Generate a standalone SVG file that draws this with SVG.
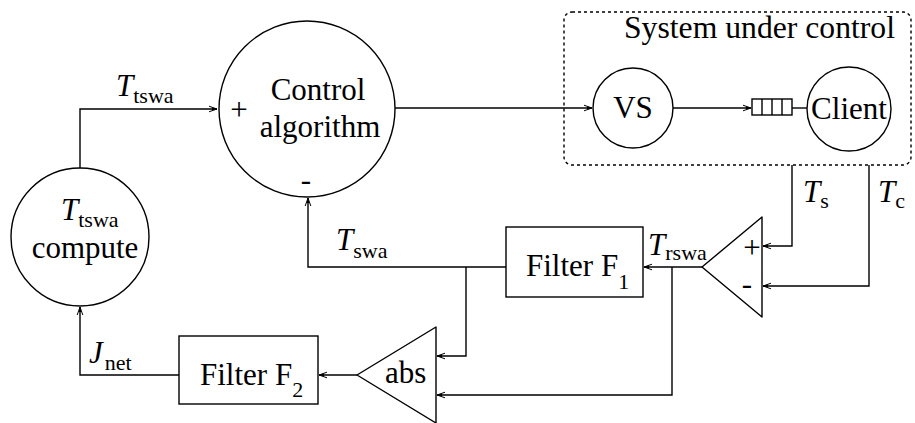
<svg xmlns="http://www.w3.org/2000/svg" width="915" height="423" viewBox="0 0 915 423">
  <defs>
    <marker id="arr" markerWidth="10" markerHeight="8" refX="9" refY="4" orient="auto" markerUnits="userSpaceOnUse">
      <path d="M1,1.2 L9,4 L1,6.8" fill="none" stroke="#000" stroke-width="1"/>
      <path d="M4,2.6 L9,4 L4,5.4 Z" fill="#000"/>
    </marker>
  </defs>
  <style>
    .ln { fill: none; stroke: #000; stroke-width: 1.4; }
    .sh { fill: #fff; stroke: #000; stroke-width: 1.4; }
    .cl { stroke-linejoin: round; }
    .t { font-family: "Liberation Serif", "Times New Roman", serif; font-size: 31px; fill: #000; }
    .it { font-style: italic; }
    .sub { font-style: normal; font-size: 22px; }
    .mid { text-anchor: middle; }
  </style>
  <rect width="915" height="423" fill="#fff"/>

  <!-- system boundary -->
  <g id="system">
    <rect x="564" y="12" width="347" height="153" rx="8" fill="none" stroke="#000" stroke-width="1.4" stroke-dasharray="3 3"/>
    <text class="t" x="624" y="38" textLength="271" lengthAdjust="spacingAndGlyphs">System under control</text>
  </g>

  <!-- connectors -->
  <g id="connectors">
    <polyline class="ln" points="80,168 80,109 217,109" marker-end="url(#arr)"/>
    <line class="ln" x1="395" y1="108" x2="592" y2="108" marker-end="url(#arr)"/>
    <line class="ln" x1="673" y1="108" x2="751" y2="108" marker-end="url(#arr)"/>
    <line class="ln" x1="792" y1="108" x2="808" y2="108"/>
    <polyline class="ln" points="792,165 792,246 763,246" marker-end="url(#arr)"/>
    <polyline class="ln" points="869,165 869,286 763,286" marker-end="url(#arr)"/>
    <line class="ln" x1="702" y1="267" x2="644" y2="267" marker-end="url(#arr)"/>
    <polyline class="ln" points="672,267 672,395 437,395" marker-end="url(#arr)"/>
    <polyline class="ln" points="506,267 308,267 308,198" marker-end="url(#arr)"/>
    <polyline class="ln" points="466,267 466,356 437,356" marker-end="url(#arr)"/>
    <line class="ln" x1="357" y1="375" x2="319" y2="375" marker-end="url(#arr)"/>
    <polyline class="ln" points="179,375 80,375 80,307" marker-end="url(#arr)"/>
  </g>

  <!-- labels on connectors -->
  <g id="signal-labels">
    <text class="t" x="116" y="96"><tspan class="it">T</tspan><tspan class="sub" dy="7">tswa</tspan></text>
    <text class="t" x="336" y="250"><tspan class="it">T</tspan><tspan class="sub" dy="8">swa</tspan></text>
    <text class="t" x="648" y="255"><tspan class="it">T</tspan><tspan class="sub" dy="5">rswa</tspan></text>
    <text class="t" x="803" y="202"><tspan class="it">T</tspan><tspan class="sub" dy="6">s</tspan></text>
    <text class="t" x="878" y="202"><tspan class="it">T</tspan><tspan class="sub" dy="6">c</tspan></text>
    <text class="t" x="89" y="363"><tspan class="it">J</tspan><tspan class="sub" dx="2" dy="7">net</tspan></text>
  </g>

  <g id="compute">
    <circle class="sh" cx="80" cy="237" r="69"/>
    <text class="t" x="61" y="220"><tspan class="it">T</tspan><tspan class="sub" dy="7">tswa</tspan></text>
    <text class="t mid" x="85" y="258">compute</text>
  </g>

  <g id="control">
    <circle class="sh" cx="307" cy="109" r="88"/>
    <text class="t mid" x="318" y="100">Control</text>
    <text class="t mid" x="320" y="137">algorithm</text>
    <text class="t mid" x="239" y="120" font-size="24">+</text>
    <text class="t mid" x="306" y="190">-</text>
  </g>

  <g id="vs">
    <circle class="sh" cx="633" cy="108" r="40"/>
    <text class="t mid" x="633" y="118">VS</text>
  </g>

  <g id="queue">
    <rect class="sh" x="752" y="99" width="40" height="16"/>
    <path class="ln" d="M762,99 V115 M772,99 V115 M782,99 V115"/>
  </g>

  <g id="client">
    <circle class="sh" cx="849" cy="109" r="42"/>
    <text class="t mid" x="849" y="119">Client</text>
  </g>

  <g id="comparator">
    <polygon class="sh cl" points="762,217 762,317 702,267"/>
    <text class="t mid" x="752" y="258" font-size="24">+</text>
    <text class="t mid" x="747" y="294">-</text>
  </g>

  <g id="filter1">
    <rect class="sh" x="506" y="227" width="137" height="70"/>
    <text class="t" x="526" y="276">Filter F<tspan class="sub" dy="13">1</tspan></text>
  </g>

  <g id="abs">
    <polygon class="sh cl" points="436,327 436,423 357,375"/>
    <text class="t" x="385" y="383">abs</text>
  </g>

  <g id="filter2">
    <rect class="sh" x="179" y="336" width="139" height="68"/>
    <text class="t" x="200" y="385">Filter F<tspan class="sub" dy="12">2</tspan></text>
  </g>
</svg>
